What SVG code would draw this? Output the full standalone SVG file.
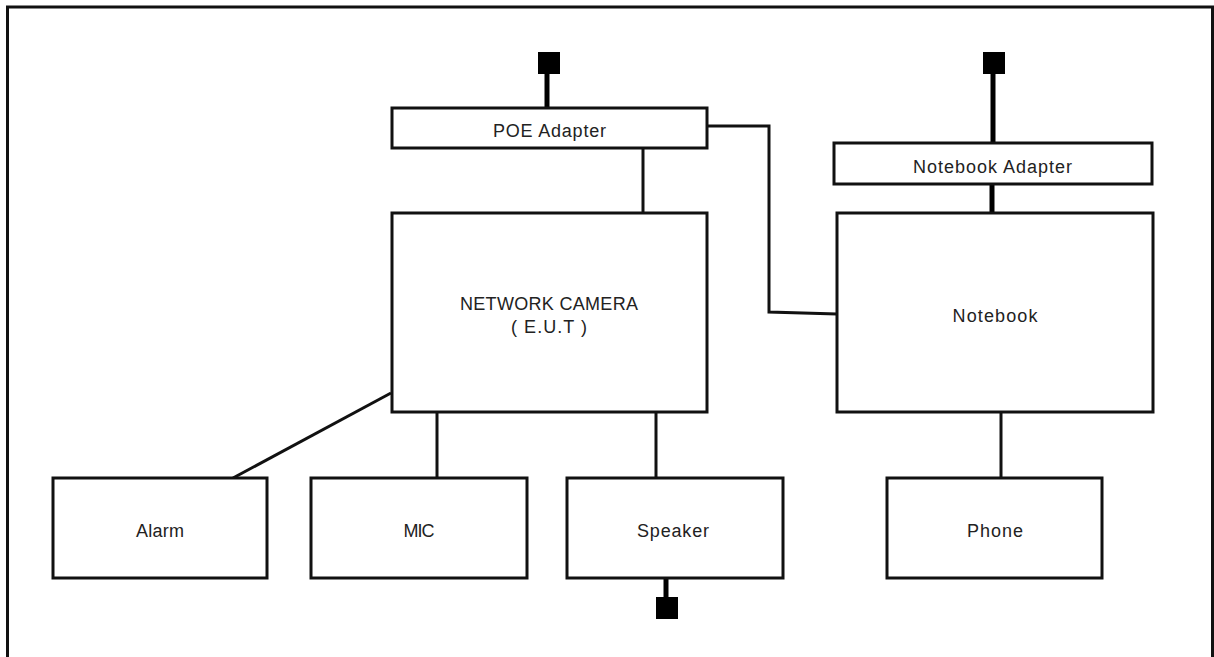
<svg xmlns="http://www.w3.org/2000/svg" width="1214" height="657" viewBox="0 0 1214 657">
<style>
.box{fill:#fff;stroke:#111;stroke-width:3}
.ln{fill:none;stroke:#111;stroke-width:3}
.stem{fill:none;stroke:#000;stroke-width:5}
.plug{fill:#000}
text{font-family:"Liberation Sans",Arial,sans-serif;font-size:18px;fill:#222;text-anchor:middle}
</style>
<rect width="1214" height="657" fill="#fff"/>
<path d="M7.5 657 V7 H1212.5 V657" fill="none" stroke="#111" stroke-width="3"/>
<g id="connectors">
<line class="stem" x1="547" y1="72" x2="547" y2="108"/>
<line class="ln" x1="643" y1="148" x2="643" y2="213"/>
<polyline class="ln" points="707,126 769,126 769,312 837,314"/>
<line class="stem" x1="993" y1="72" x2="993" y2="143"/>
<line class="stem" x1="992" y1="184" x2="992" y2="213"/>
<line class="ln" x1="391" y1="393" x2="233" y2="478"/>
<line class="ln" x1="437" y1="412" x2="437" y2="478"/>
<line class="ln" x1="656" y1="412" x2="656" y2="478"/>
<line class="ln" x1="1001" y1="412" x2="1001" y2="478"/>
<line class="stem" x1="666" y1="578" x2="666" y2="598"/>
</g>
<g id="plug-poe"><rect class="plug" x="538" y="52" width="22" height="22"/></g>
<g id="plug-notebook"><rect class="plug" x="983" y="52" width="22" height="22"/></g>
<g id="plug-speaker"><rect class="plug" x="656" y="597" width="22" height="22"/></g>
<g id="poe-adapter"><rect class="box" x="392" y="108" width="315" height="40"/><text x="549.5" y="137" textLength="113" lengthAdjust="spacing">POE Adapter</text></g>
<g id="notebook-adapter"><rect class="box" x="834" y="143" width="318" height="41"/><text x="992.5" y="173" textLength="159" lengthAdjust="spacing">Notebook Adapter</text></g>
<g id="network-camera"><rect class="box" x="392" y="213" width="315" height="199"/><text x="549" y="310" textLength="178" lengthAdjust="spacing">NETWORK  CAMERA</text><text x="549" y="333" textLength="76" lengthAdjust="spacing">( E.U.T )</text></g>
<g id="notebook"><rect class="box" x="837" y="213" width="316" height="199"/><text x="995" y="322" textLength="85" lengthAdjust="spacing">Notebook</text></g>
<g id="alarm"><rect class="box" x="53" y="478" width="214" height="100"/><text x="160" y="537" textLength="48" lengthAdjust="spacing">Alarm</text></g>
<g id="mic"><rect class="box" x="311" y="478" width="216" height="100"/><text x="419" y="537" textLength="31" lengthAdjust="spacing">MIC</text></g>
<g id="speaker"><rect class="box" x="567" y="478" width="216" height="100"/><text x="673" y="537" textLength="72" lengthAdjust="spacing">Speaker</text></g>
<g id="phone"><rect class="box" x="887" y="478" width="215" height="100"/><text x="995" y="537" textLength="56" lengthAdjust="spacing">Phone</text></g>
</svg>
